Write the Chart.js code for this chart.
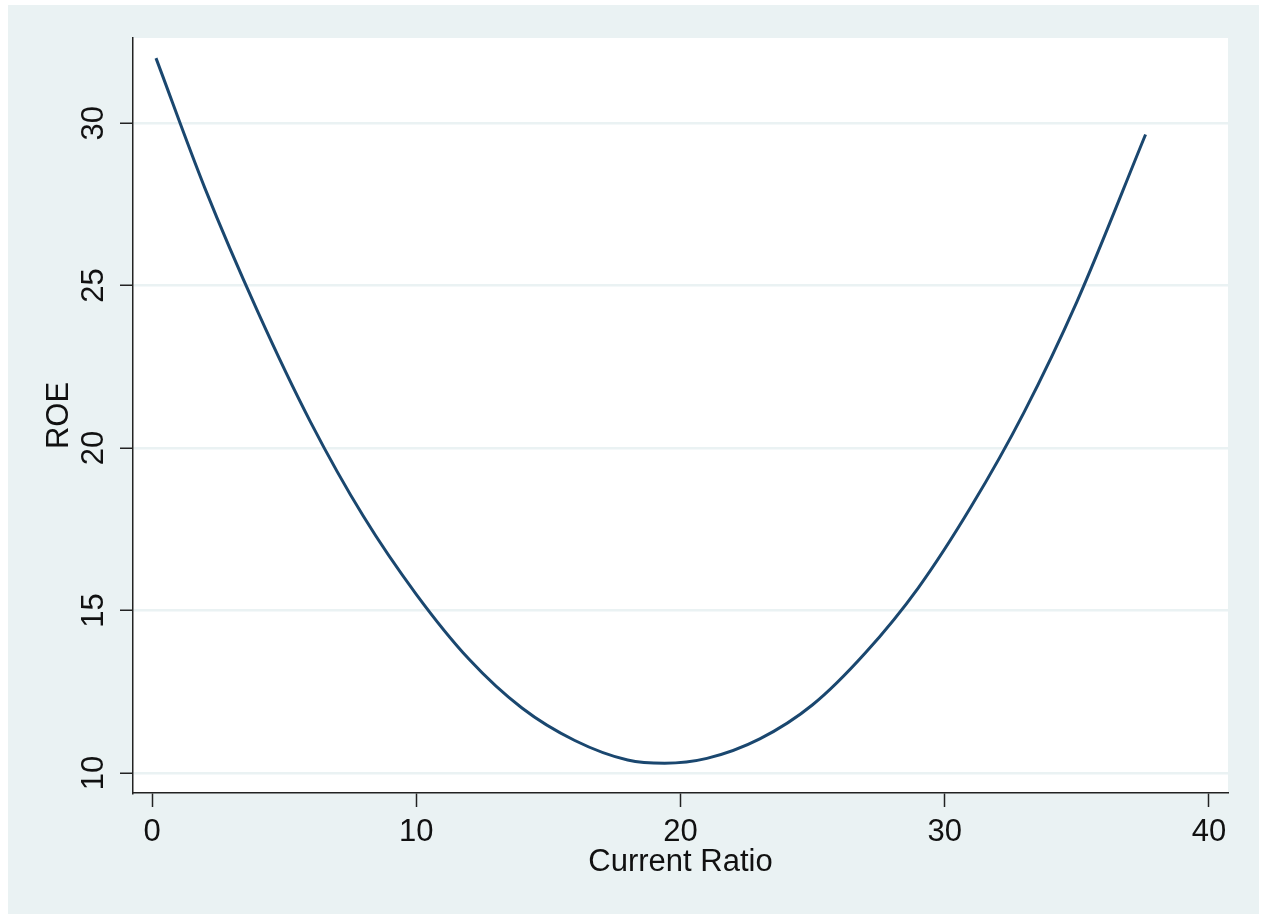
<!DOCTYPE html>
<html>
<head>
<meta charset="utf-8">
<script src="https://cdn.jsdelivr.net/npm/chart.js@4"></script>
<style>
  body { margin: 0; background: #fff; }
</style>
</head>
<body>
<canvas id="roeChart" width="1264" height="914"></canvas>
<script>
// values
let currentRatio = [0.15, 2, 4, 6, 8, 10, 12, 14, 16, 18, 19.4, 21, 23, 25, 27, 29, 31, 33, 35, 37.6];
let roe = [32.0, 28.0, 24.2, 20.8, 17.9, 15.5, 13.5, 12.0, 11.0, 10.4, 10.3, 10.45, 11.05, 12.1, 13.7, 15.7, 18.2, 21.1, 24.5, 29.65];
let xTicks = [0, 10, 20, 30, 40];
let yTicks = [10, 15, 20, 25, 30];

let bg = '#EAF2F3';
let navy = '#1A476F';
let font = { family: "'Liberation Sans', Arial, sans-serif", size: 31 };

let points = currentRatio.map((x, i) => ({ x: x, y: roe[i] }));

let background = {
  id: 'background',
  beforeDraw(chart) {
    let c = chart.ctx;
    let a = chart.chartArea;
    c.save();
    c.fillStyle = '#fff';
    c.fillRect(0, 0, chart.width, chart.height);
    c.fillStyle = bg;
    c.fillRect(8, 5, 1251, chart.height - 5);
    c.fillStyle = '#fff';
    c.fillRect(a.left, a.top, a.right - a.left, a.bottom - a.top);
    c.restore();
  }
};

let ctx = document.getElementById('roeChart').getContext('2d');

let myChart = new Chart(ctx, {
  type: 'scatter',
  data: {
    datasets: [{
      data: points,
      showLine: true,
      borderColor: navy,
      borderWidth: 3,
      pointRadius: 0,
      cubicInterpolationMode: 'monotone'
    }]
  },
  options: {
    responsive: false,
    animation: false,
    layout: { padding: { top: 38, right: 36, bottom: 0, left: 0 } },
    plugins: {
      legend: { display: false },
      tooltip: { enabled: false }
    },
    scales: {
      x: {
        type: 'linear',
        min: -0.72,
        max: 40.72,
        afterFit: (scale) => { scale.height = 121; },
        afterBuildTicks: (scale) => { scale.ticks = xTicks.map(v => ({ value: v })); },
        border: { color: '#222', width: 1.5 },
        grid: {
          drawOnChartArea: false,
          tickColor: '#222',
          tickLength: 14,
          tickWidth: 1.5
        },
        ticks: {
          color: '#111',
          font: font,
          padding: 7,
          maxRotation: 0
        },
        title: {
          display: true,
          text: 'Current Ratio',
          color: '#111',
          font: font,
          padding: { top: 0, bottom: 33 }
        }
      },
      y: {
        min: 9.385,
        max: 32.62,
        afterFit: (scale) => { scale.width = 133; },
        afterBuildTicks: (scale) => { scale.ticks = yTicks.map(v => ({ value: v })); },
        border: { color: '#222', width: 1.5 },
        grid: {
          color: bg,
          lineWidth: 2.5,
          tickColor: '#222',
          tickLength: 13,
          tickWidth: 1.5
        },
        ticks: {
          color: '#111',
          font: font,
          padding: 8,
          minRotation: 90,
          maxRotation: 90,
          crossAlign: 'center'
        },
        title: {
          display: true,
          text: 'ROE',
          color: '#111',
          font: font,
          padding: { top: 41, bottom: 0 }
        }
      }
    }
  },
  plugins: [background]
});
</script>
</body>
</html>
